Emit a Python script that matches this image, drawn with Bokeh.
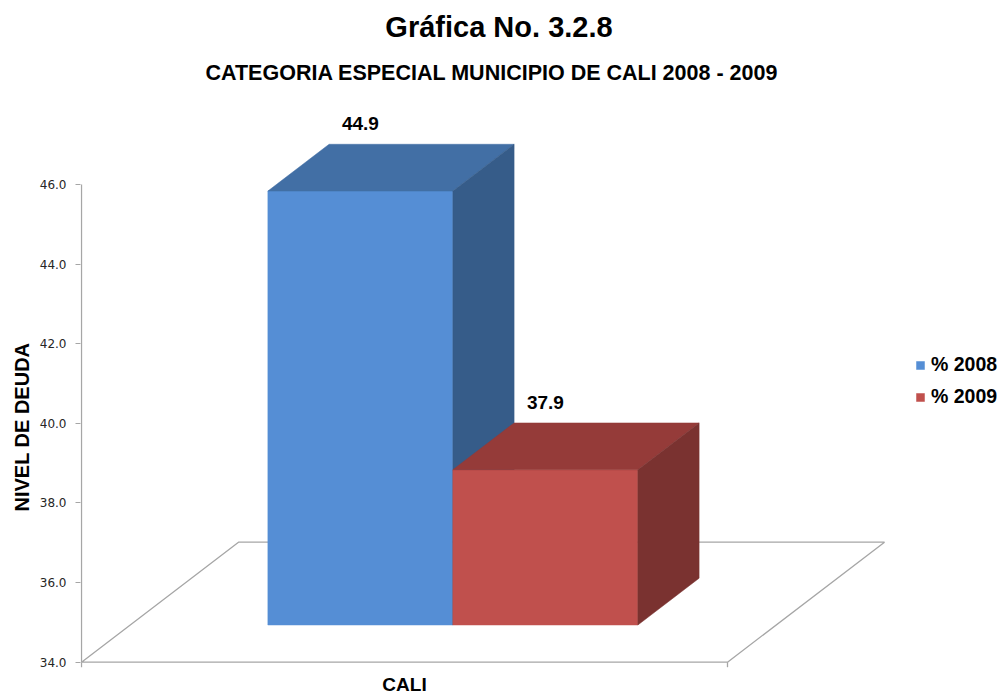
from bokeh.plotting import figure
from bokeh.models import Range1d, FixedTicker, Legend, LegendItem, Title, NumeralTickFormatter
from bokeh.core.properties import value
from bokeh.embed import file_html
from bokeh.resources import INLINE

# ---------------- data ----------------
CATEGORY = "CALI"
SERIES = ["% 2008", "% 2009"]
VALUES = [44.9, 37.9]
FRONT_COLORS = ["#558ED5", "#C0504D"]
TOP_COLORS = ["#426FA5", "#953B39"]
SIDE_COLORS = ["#365C89", "#7A3230"]
Y_TICKS = [34.0, 36.0, 38.0, 40.0, 42.0, 44.0, 46.0]
TITLE = "Gráfica No. 3.2.8"
SUBTITLE = "CATEGORIA ESPECIAL  MUNICIPIO DE CALI  2008  - 2009"
Y_LABEL = "NIVEL DE DEUDA"

# ---------------- layout ----------------
W, H = 1006, 697
LEFT = 80                 # frame left border (canvas px)
PX_PER_UNIT = 39.81       # vertical scale
BASE = Y_TICKS[0]
BASE_CANVAS = 661.7       # canvas y of the base value
y_start = BASE - (H - BASE_CANVAS) / PX_PER_UNIT
y_end = BASE + BASE_CANVAS / PX_PER_UNIT

AXIS_X = 1.0
CAT_W = 646.0
DEPTH_X = 157.0
DEPTH_Y = 120.0 / PX_PER_UNIT
BAR_W = 185.0
BAR_OFFSET = 137.7
Z_FRONT, Z_BACK = 0.31, 0.70
GRAY = "#A6A6A6"
FONT = "Liberation Sans"

p = figure(width=W, height=H, output_backend="svg", toolbar_location=None,
           x_range=Range1d(0, W - LEFT), y_range=Range1d(y_start, y_end),
           x_axis_location=None, min_border_left=LEFT, min_border_right=0,
           min_border_top=0, min_border_bottom=0)
p.outline_line_color = None
p.grid.visible = False
p.background_fill_color = "white"
p.border_fill_color = "white"

ax = p.yaxis[0]
ax.ticker = FixedTicker(ticks=Y_TICKS)
ax.formatter = NumeralTickFormatter(format="0.0")
ax.axis_line_color = None
ax.major_tick_line_color = GRAY
ax.major_tick_out = 5
ax.major_tick_in = 0
ax.minor_tick_line_color = None
ax.major_label_standoff = 9
ax.major_label_text_font = "DejaVu Sans"
ax.major_label_text_font_size = "12px"
ax.major_label_text_color = "#262626"

# vertical axis title (in the left panel)
p.add_layout(Title(text=Y_LABEL, align="left", offset=186, standoff=8,
                   text_font=FONT, text_font_style="bold", text_font_size="20px",
                   text_color="black"), "left")

# floor outline
fx0, fx1 = AXIS_X, AXIS_X + CAT_W
p.line([fx0, fx1, fx1 + DEPTH_X, fx0 + DEPTH_X, fx0],
       [BASE, BASE, BASE + DEPTH_Y, BASE + DEPTH_Y, BASE],
       line_color=GRAY, line_width=1.3)
# vertical axis line and category ticks
p.segment(x0=[AXIS_X], y0=[Y_TICKS[0]], x1=[AXIS_X], y1=[Y_TICKS[-1]],
          line_color=GRAY, line_width=1.3)
p.segment(x0=[fx0, fx1], y0=[BASE, BASE], x1=[fx0, fx1],
          y1=[BASE - 5 / PX_PER_UNIT] * 2, line_color=GRAY, line_width=1.3)

fx, fy = Z_FRONT * DEPTH_X, Z_FRONT * DEPTH_Y
bx, by = Z_BACK * DEPTH_X, Z_BACK * DEPTH_Y
front_renderers = []
for i, v in enumerate(VALUES):
    x0 = AXIS_X + BAR_OFFSET + i * BAR_W
    x1 = x0 + BAR_W
    r = p.patch([x0 + fx, x1 + fx, x1 + fx, x0 + fx],
                [BASE + fy, BASE + fy, v + fy, v + fy],
                fill_color=FRONT_COLORS[i], line_color=FRONT_COLORS[i], line_width=0.5)
    front_renderers.append(r)
    p.patch([x0 + fx, x1 + fx, x1 + bx, x0 + bx],
            [v + fy, v + fy, v + by, v + by],
            fill_color=TOP_COLORS[i], line_color=TOP_COLORS[i], line_width=0.5)
    p.patch([x1 + fx, x1 + bx, x1 + bx, x1 + fx],
            [BASE + fy, BASE + by, v + by, v + fy],
            fill_color=SIDE_COLORS[i], line_color=SIDE_COLORS[i], line_width=0.5)
    p.text(x=[(x0 + x1) / 2 + fx], y=[v + by + 0.52], text=[f"{v:.1f}"],
           text_font=value(FONT), text_font_style="bold", text_font_size="19px",
           text_align="center", text_baseline="middle", text_color="black")

# category label
p.text(x=[AXIS_X + CAT_W / 2], y=[BASE - 22.5 / PX_PER_UNIT], text=[CATEGORY],
       text_font=value(FONT), text_font_style="bold", text_font_size="19px",
       text_align="center", text_baseline="middle", text_color="black")

# titles
p.text(x=[418.5], y=[y_end - 26.5 / PX_PER_UNIT], text=[TITLE],
       text_font=value(FONT), text_font_style="bold", text_font_size="29px",
       text_align="center", text_baseline="middle", text_color="black")
p.text(x=[420.5], y=[y_end - 72.5 / PX_PER_UNIT], text=[SUBTITLE],
       text_font=value(FONT), text_font_style="bold", text_font_size="21.5px",
       text_align="center", text_baseline="middle", text_color="black")

legend = Legend(items=[LegendItem(label=SERIES[i], renderers=[front_renderers[i]])
                       for i in range(len(SERIES))],
                location=(835, 289), orientation="vertical",
                border_line_color=None, background_fill_alpha=0,
                padding=0, margin=0, spacing=9, glyph_width=10, glyph_height=10,
                label_standoff=6, label_text_font=FONT, label_text_font_style="bold",
                label_text_font_size="19.5px", label_text_color="black")
p.add_layout(legend)

open("out.html", "w").write(file_html(p, INLINE))
